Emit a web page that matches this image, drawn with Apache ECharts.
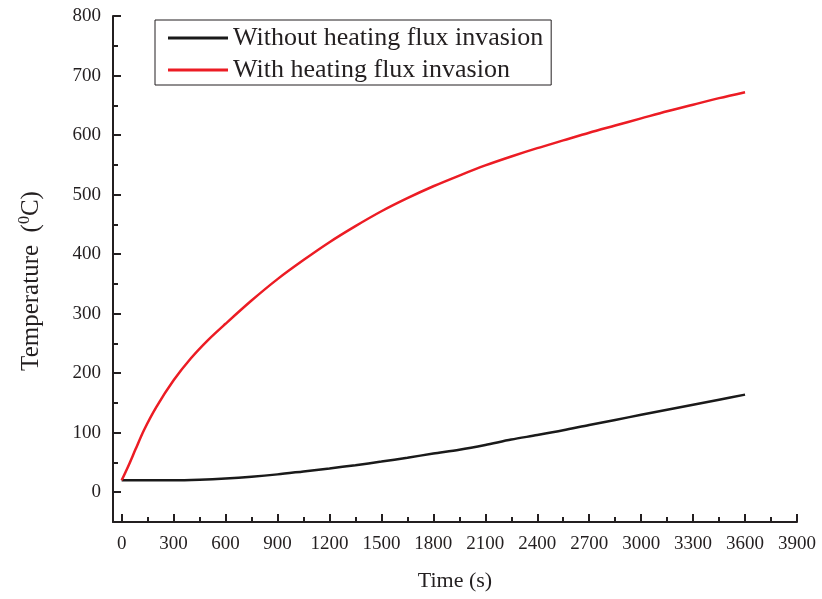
<!DOCTYPE html>
<html>
<head>
<meta charset="utf-8">
<script src="https://cdn.jsdelivr.net/npm/echarts@6/dist/echarts.min.js"></script>
<style>html,body{margin:0;padding:0;background:#fff}#c{width:822px;height:599px}</style>
</head>
<body>
<div id="c"></div>
<script>
// Data
const redTimes = [0, 40, 80, 130, 200, 300, 400, 500, 600, 750, 900, 1050, 1200, 1350, 1500, 1650, 1800, 1950, 2100, 2250, 2400, 2550, 2700, 2850, 3000, 3150, 3300, 3450, 3600];
const redValues = [20, 45, 72, 105, 143, 188, 225, 256, 283, 322, 358, 390, 420, 447, 472, 494, 514, 532, 549, 564, 578, 591, 604, 616, 628, 640, 651, 662, 672];
const blackTimes = [0, 150, 300, 450, 600, 750, 900, 1050, 1200, 1350, 1500, 1650, 1800, 1950, 2100, 2250, 2400, 2550, 2700, 2850, 3000, 3150, 3300, 3450, 3600];
const blackValues = [20, 20, 20, 21, 23, 26, 30, 35, 40, 45.5, 51.5, 58, 65, 71.5, 79.5, 88.5, 96, 104, 113, 121.5, 130, 138.5, 147, 155.5, 164];
const xMajorTicks = [0, 300, 600, 900, 1200, 1500, 1800, 2100, 2400, 2700, 3000, 3300, 3600, 3900];
const xMinorTicks = [150, 450, 750, 1050, 1350, 1650, 1950, 2250, 2550, 2850, 3150, 3450, 3750];
const yMajorTicks = [0, 100, 200, 300, 400, 500, 600, 700, 800];
const yMinorTicks = [50, 150, 250, 350, 450, 550, 650, 750];
const seriesNames = ['Without heating flux invasion', 'With heating flux invasion'];

const font = '"Liberation Serif", "DejaVu Serif", serif';
const ink = '#231f20';
const chart = echarts.init(document.getElementById('c'), null, {renderer: 'canvas'});
const axisLineStyle = {color: ink, width: 2};
const plain = v => String(v);

chart.setOption({
  animation: false,
  backgroundColor: '#fff',
  grid: {left: 113, right: 25, top: 16, bottom: 77, containLabel: false},
  legend: {
    orient: 'vertical',
    left: 155, top: 20,
    borderColor: ink, borderWidth: 1,
    padding: [4, 8, 1, 13],
    icon: 'rect',
    itemWidth: 60, itemHeight: 3, itemGap: 4,
    textStyle: {fontFamily: font, fontSize: 26, color: ink, lineHeight: 28},
    data: seriesNames
  },
  xAxis: [{
    type: 'value', min: -50, max: 3900,
    name: 'Time (s)', nameLocation: 'middle', nameGap: 48,
    nameTextStyle: {fontFamily: font, fontSize: 22, color: ink},
    axisLine: {show: true, onZero: false, lineStyle: axisLineStyle},
    axisTick: {show: true, inside: true, length: 8, lineStyle: axisLineStyle, customValues: xMajorTicks},
    axisLabel: {show: true, fontFamily: font, fontSize: 19, color: ink, margin: 13, formatter: plain, customValues: xMajorTicks},
    splitLine: {show: false}
  }, {
    type: 'value', min: -50, max: 3900, position: 'bottom',
    axisLine: {show: false, onZero: false},
    axisTick: {show: true, inside: true, length: 5, lineStyle: axisLineStyle, customValues: xMinorTicks},
    axisLabel: {show: false},
    splitLine: {show: false}
  }],
  yAxis: [{
    type: 'value', min: -50, max: 800,
    name: '{a|Temperature  (}{s|0}{a|C)}', nameLocation: 'middle', nameGap: 68,
    nameTextStyle: {
      fontFamily: font, fontSize: 25, color: ink, padding: [0, 24, 0, 0],
      rich: {
        a: {fontFamily: font, fontSize: 25, color: ink},
        s: {fontFamily: font, fontSize: 16, color: ink, verticalAlign: 'top', padding: [0, 0, 12, 0]}
      }
    },
    axisLine: {show: true, onZero: false, lineStyle: axisLineStyle},
    axisTick: {show: true, inside: true, length: 8, lineStyle: axisLineStyle, customValues: yMajorTicks},
    axisLabel: {show: true, fontFamily: font, fontSize: 19, color: ink, margin: 12, formatter: plain, customValues: yMajorTicks},
    splitLine: {show: false}
  }, {
    type: 'value', min: -50, max: 800, position: 'left',
    axisLine: {show: false, onZero: false},
    axisTick: {show: true, inside: true, length: 5, lineStyle: axisLineStyle, customValues: yMinorTicks},
    axisLabel: {show: false},
    splitLine: {show: false}
  }],
  series: [{
    name: seriesNames[0], type: 'line', symbol: 'none', smooth: 0.3,
    lineStyle: {color: '#1a1a1a', width: 2.5}, itemStyle: {color: '#1a1a1a'},
    data: blackTimes.map((t, i) => [t, blackValues[i]])
  }, {
    name: seriesNames[1], type: 'line', symbol: 'none', smooth: 0.3,
    lineStyle: {color: '#ec1c24', width: 2.5}, itemStyle: {color: '#ec1c24'},
    data: redTimes.map((t, i) => [t, redValues[i]])
  }]
});
</script>
</body>
</html>
